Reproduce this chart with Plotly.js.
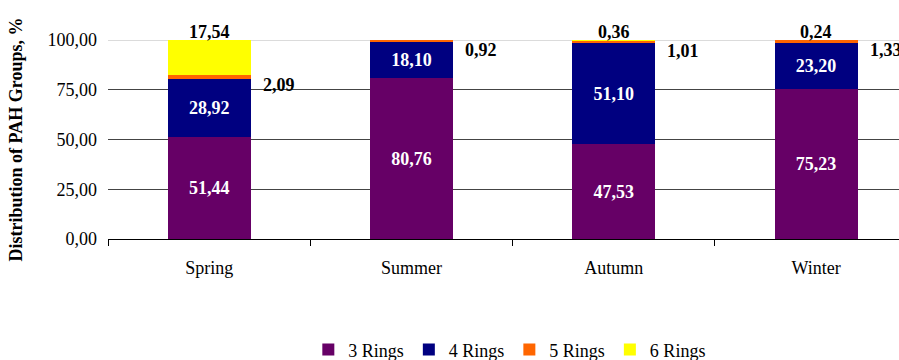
<!DOCTYPE html>
<html>
<head>
<meta charset="utf-8">
<script src="https://cdn.plot.ly/plotly-3.0.1.min.js"></script>
<style>
  html, body { margin: 0; padding: 0; background: #fff; }
  #chart { width: 899px; height: 360px; }
</style>
</head>
<body>
<div id="chart"></div>
<script>
// Seasonal distribution of PAH groups by ring count (%)
const seasons = ['Spring', 'Summer', 'Autumn', 'Winter'];
const rings3 = [51.44, 80.76, 47.53, 75.23];
const rings4 = [28.92, 18.10, 51.10, 23.20];
const rings5 = [2.09, 0.92, 1.01, 1.33];
const rings6 = [17.54, 0.22, 0.36, 0.24];
const seriesNames = ['3 Rings', '4 Rings', '5 Rings', '6 Rings'];
const seriesColors = ['#660066', '#000080', '#FF6600', '#FFFF00'];
const yTicks = [0, 25, 50, 75, 100];

const FONT = 'Liberation Serif';
const BAR_WIDTH = 0.41;
const fmt = v => v.toFixed(2).replace('.', ',');

const seriesValues = [rings3, rings4, rings5, rings6];
const traces = seriesValues.map((vals, k) => {
  const t = {
    type: 'bar',
    name: seriesNames[k],
    x: seasons,
    y: vals,
    width: BAR_WIDTH,
    marker: { color: seriesColors[k], line: { width: 0 } },
    hoverinfo: 'none'
  };
  if (k < 2) {
    t.text = vals.map(v => '<b>' + fmt(v) + '</b>');
    t.textposition = 'inside';
    t.insidetextanchor = 'middle';
    t.constraintext = 'none';
    t.textfont = { family: FONT, size: 18, color: '#ffffff' };
  } else {
    t.textposition = 'none';
  }
  return t;
});

// Outside labels: 5 Rings beside the bar, 6 Rings above it
const annotations = [];
seasons.forEach((s, i) => {
  const top5 = rings3[i] + rings4[i] + rings5[i];
  const top6 = top5 + rings6[i];
  annotations.push({
    x: i + BAR_WIDTH / 2, y: top5, xref: 'x', yref: 'y',
    text: '<b>' + fmt(rings5[i]) + '</b>',
    showarrow: false, xanchor: 'left', yanchor: 'top', xshift: 10, yshift: 2,
    font: { family: FONT, size: 18, color: '#000' }
  });
  annotations.push({
    x: i, y: top6, xref: 'x', yref: 'y',
    text: '<b>' + fmt(rings6[i]) + '</b>',
    showarrow: false, xanchor: 'center', yanchor: 'bottom', yshift: -4,
    font: { family: FONT, size: 18, color: '#000' }
  });
});

const layout = {
  width: 899,
  height: 360,
  margin: { l: 108, r: 0, t: 40, b: 121, pad: 0, autoexpand: false },
  paper_bgcolor: '#fff',
  plot_bgcolor: '#fff',
  barmode: 'stack',
  separators: ',.',
  showlegend: true,
  font: { family: FONT, color: '#000' },
  xaxis: {
    type: 'category',
    range: [-0.5, 3.41],
    automargin: false,
    showgrid: false,
    showline: true,
    linecolor: '#000',
    linewidth: 1,
    ticks: 'outside',
    tickson: 'boundaries',
    ticklen: 6,
    tickcolor: '#000',
    ticklabelstandoff: 12,
    tickfont: { family: FONT, size: 18, color: '#000' },
    fixedrange: true
  },
  yaxis: {
    range: [0, 100],
    automargin: false,
    tickvals: yTicks,
    tickformat: '.2f',
    showgrid: true,
    gridcolor: '#444',
    gridwidth: 1,
    zeroline: false,
    showline: false,
    ticks: '',
    ticklabelstandoff: 10,
    tickfont: { family: FONT, size: 18, color: '#000' },
    title: {
      text: '<b>Distribution of PAH Groups, %</b>',
      font: { family: FONT, size: 18, color: '#000' },
      standoff: 20
    },
    fixedrange: true
  },
  shapes: [{
    type: 'line', xref: 'paper', yref: 'y',
    x0: 0, x1: 1, y0: 100, y1: 100,
    line: { color: '#b8b8b8', width: 1 },
    layer: 'between'
  }],
  legend: {
    orientation: 'h',
    x: 0.508, xanchor: 'center',
    yref: 'container',
    y: 0.028, yanchor: 'middle',
    font: { family: FONT, size: 18, color: '#000' },
    traceorder: 'normal',
    itemclick: false,
    itemdoubleclick: false
  },
  annotations: annotations
};

Plotly.newPlot('chart', traces, layout, { displayModeBar: false, staticPlot: true });
</script>
</body>
</html>
